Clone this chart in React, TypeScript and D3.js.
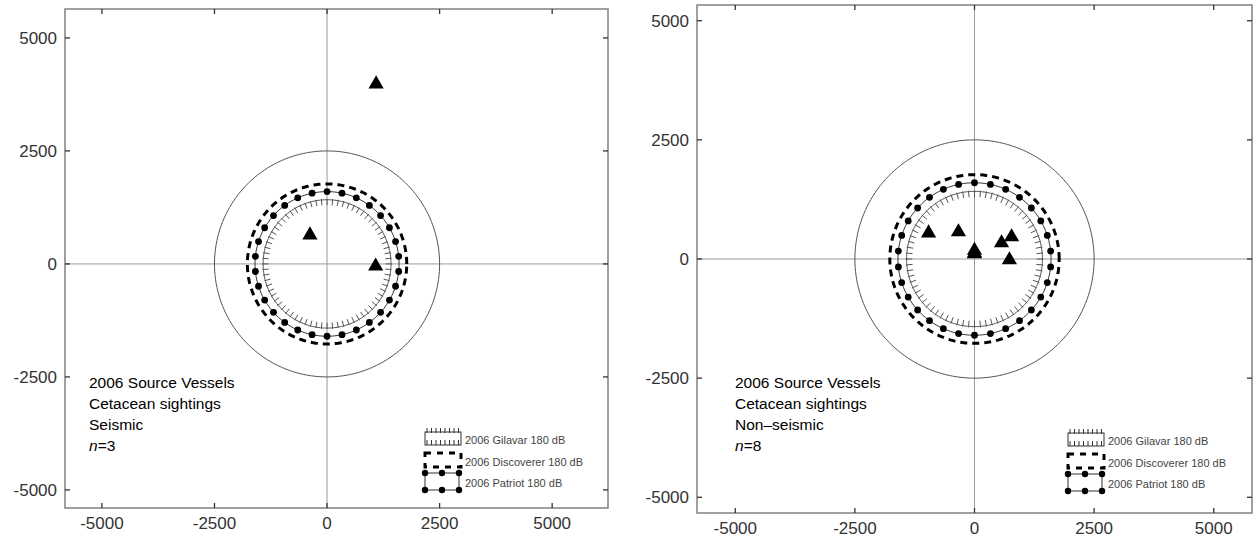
import React, { useRef, useEffect } from 'react';
import * as d3 from 'd3';

// axis ticks shared by both panels
const tickValues = [-5000, -2500, 0, 2500, 5000];

// sightings (metres from source)
const seismicX = [1090, -380, 1080];
const seismicY = [3980, 640, -50];
const nonSeismicX = [-960, -335, 0, 0, 0, 565, 775, 730];
const nonSeismicY = [545, 567, 180, 125, 110, 336, 462, -20];

// 180 dB zones
const zoneNames = ['2006 Gilavar 180 dB', '2006 Discoverer 180 dB', '2006 Patriot 180 dB'];
const zoneRadii = [1420, 1770, 1600];
const outerRadius = 2500;

const seismicLines = ['2006 Source Vessels', 'Cetacean sightings', 'Seismic'];
const nonSeismicLines = ['2006 Source Vessels', 'Cetacean sightings', 'Non\u2013seismic'];

const FONT = '"Liberation Sans", Arial, sans-serif';

const panels = [
  {
    left: 65, top: 9, right: 608, bottom: 508,
    xDomain: [-5820, 6240], yDomain: [-5400, 5640],
    xs: seismicX, ys: seismicY, lines: seismicLines, n: seismicX.length,
    textX: 89, legendX: 425, legendY: 432,
  },
  {
    left: 697, top: 5, right: 1252, bottom: 513,
    xDomain: [-5800, 5800], yDomain: [-5330, 5330],
    xs: nonSeismicX, ys: nonSeismicY, lines: nonSeismicLines, n: nonSeismicX.length,
    textX: 735, legendX: 1068, legendY: 433,
  },
];

const Panel = ({ p }) => {
  const gRef = useRef();

  useEffect(() => {
    const g = d3.select(gRef.current);
    g.selectAll('*').remove();

    const x = d3.scaleLinear().domain(p.xDomain).range([p.left, p.right]);
    const y = d3.scaleLinear().domain(p.yDomain).range([p.bottom, p.top]);

    // crosshair
    g.append('line').attr('x1', x(0)).attr('x2', x(0)).attr('y1', p.top).attr('y2', p.bottom)
      .attr('stroke', '#9a9a9a').attr('stroke-width', 1);
    g.append('line').attr('x1', p.left).attr('x2', p.right).attr('y1', y(0)).attr('y2', y(0))
      .attr('stroke', '#9a9a9a').attr('stroke-width', 1);

    const ring = (r) => d3.line()(d3.range(0, 361, 2).map(a => {
      const t = a * Math.PI / 180;
      return [x(r * Math.cos(t)), y(r * Math.sin(t))];
    }));

    // outer circle
    g.append('path').attr('d', ring(outerRadius)).attr('fill', 'none')
      .attr('stroke', '#555').attr('stroke-width', 1);

    // Gilavar: hatched circle
    g.append('path').attr('d', ring(zoneRadii[0])).attr('fill', 'none')
      .attr('stroke', '#555').attr('stroke-width', 1);
    d3.range(0, 360, 5).forEach(a => {
      const t = a * Math.PI / 180;
      const r0 = zoneRadii[0] - 120, r1 = zoneRadii[0] + 20;
      g.append('line')
        .attr('x1', x(r0 * Math.cos(t))).attr('y1', y(r0 * Math.sin(t)))
        .attr('x2', x(r1 * Math.cos(t))).attr('y2', y(r1 * Math.sin(t)))
        .attr('stroke', '#555').attr('stroke-width', 1);
    });

    // Discoverer: thick dashed
    g.append('path').attr('d', ring(zoneRadii[1])).attr('fill', 'none')
      .attr('stroke', '#000').attr('stroke-width', 3).attr('stroke-dasharray', '7,5');

    // Patriot: line with dots
    g.append('path').attr('d', ring(zoneRadii[2])).attr('fill', 'none')
      .attr('stroke', '#333').attr('stroke-width', 1);
    g.selectAll('circle.dot').data(d3.range(0, 360, 12)).enter().append('circle')
      .attr('class', 'dot')
      .attr('cx', a => x(zoneRadii[2] * Math.sin(a * Math.PI / 180)))
      .attr('cy', a => y(zoneRadii[2] * Math.cos(a * Math.PI / 180)))
      .attr('r', 3.4).attr('fill', '#000');

    // sightings
    const tri = d3.symbol().type(d3.symbolTriangle).size(100);
    g.selectAll('path.tri').data(p.xs.map((v, i) => [v, p.ys[i]])).enter().append('path')
      .attr('class', 'tri')
      .attr('d', tri)
      .attr('transform', d => `translate(${x(d[0])},${y(d[1])})`)
      .attr('fill', '#000');

    // frame
    g.append('rect').attr('x', p.left).attr('y', p.top)
      .attr('width', p.right - p.left).attr('height', p.bottom - p.top)
      .attr('fill', 'none').attr('stroke', '#808080').attr('stroke-width', 1.5);

    // inward ticks on all four sides
    tickValues.forEach(v => {
      g.append('line').attr('x1', x(v)).attr('x2', x(v)).attr('y1', p.bottom).attr('y2', p.bottom - 5)
        .attr('stroke', '#333').attr('stroke-width', 1.3);
      g.append('line').attr('x1', x(v)).attr('x2', x(v)).attr('y1', p.top).attr('y2', p.top + 5)
        .attr('stroke', '#333').attr('stroke-width', 1.3);
      g.append('line').attr('y1', y(v)).attr('y2', y(v)).attr('x1', p.left).attr('x2', p.left + 5)
        .attr('stroke', '#333').attr('stroke-width', 1.3);
      g.append('line').attr('y1', y(v)).attr('y2', y(v)).attr('x1', p.right).attr('x2', p.right - 5)
        .attr('stroke', '#333').attr('stroke-width', 1.3);

      g.append('text').attr('x', x(v)).attr('y', p.bottom + 21)
        .attr('text-anchor', 'middle').attr('font-family', FONT).attr('font-size', 17)
        .attr('fill', '#333').text(v);
      g.append('text').attr('x', p.left - 8).attr('y', y(v) + 6)
        .attr('text-anchor', 'end').attr('font-family', FONT).attr('font-size', 17)
        .attr('fill', '#333').text(v);
    });

    // annotation
    p.lines.forEach((s, i) => {
      g.append('text').attr('x', p.textX).attr('y', 388 + i * 21)
        .attr('font-family', FONT).attr('font-size', 15.5).attr('fill', '#000').text(s);
    });
    const nt = g.append('text').attr('x', p.textX).attr('y', 388 + 3 * 21)
      .attr('font-family', FONT).attr('font-size', 15.5).attr('fill', '#000');
    nt.append('tspan').attr('font-style', 'italic').text('n');
    nt.append('tspan').text('=' + p.n);

    // legend
    const lx = p.legendX, ly = p.legendY;
    const lg = g.append('g');
    lg.append('rect').attr('x', lx).attr('y', ly).attr('width', 36).attr('height', 13)
      .attr('fill', 'none').attr('stroke', '#333').attr('stroke-width', 1);
    d3.range(lx + 2, lx + 36, 4.5).forEach(tx => {
      lg.append('line').attr('x1', tx).attr('x2', tx).attr('y1', ly - 4).attr('y2', ly + 1)
        .attr('stroke', '#333').attr('stroke-width', 1);
      lg.append('line').attr('x1', tx).attr('x2', tx).attr('y1', ly + 8).attr('y2', ly + 13)
        .attr('stroke', '#333').attr('stroke-width', 1);
    });
    lg.append('rect').attr('x', lx).attr('y', ly + 21).attr('width', 36).attr('height', 14)
      .attr('fill', 'none').attr('stroke', '#000').attr('stroke-width', 3)
      .attr('stroke-dasharray', '6,6');
    lg.append('rect').attr('x', lx).attr('y', ly + 41).attr('width', 34).attr('height', 17)
      .attr('fill', 'none').attr('stroke', '#333').attr('stroke-width', 1);
    [[0, 41], [17, 41], [34, 41], [0, 58], [17, 58], [34, 58]].forEach(d => {
      lg.append('circle').attr('cx', lx + d[0]).attr('cy', ly + d[1]).attr('r', 3.2).attr('fill', '#000');
    });
    zoneNames.forEach((s, i) => {
      lg.append('text').attr('x', lx + 40).attr('y', ly + 12 + i * 21.5)
        .attr('font-family', FONT).attr('font-size', 11).attr('fill', '#444').text(s);
    });
  }, [p]);

  return <g ref={gRef} />;
};

export default function App() {
  return (
    <svg width={1254} height={540} style={{ position: 'absolute', left: 0, top: 0, background: '#fff' }}>
      {panels.map((p, i) => <Panel key={i} p={p} />)}
    </svg>
  );
}
